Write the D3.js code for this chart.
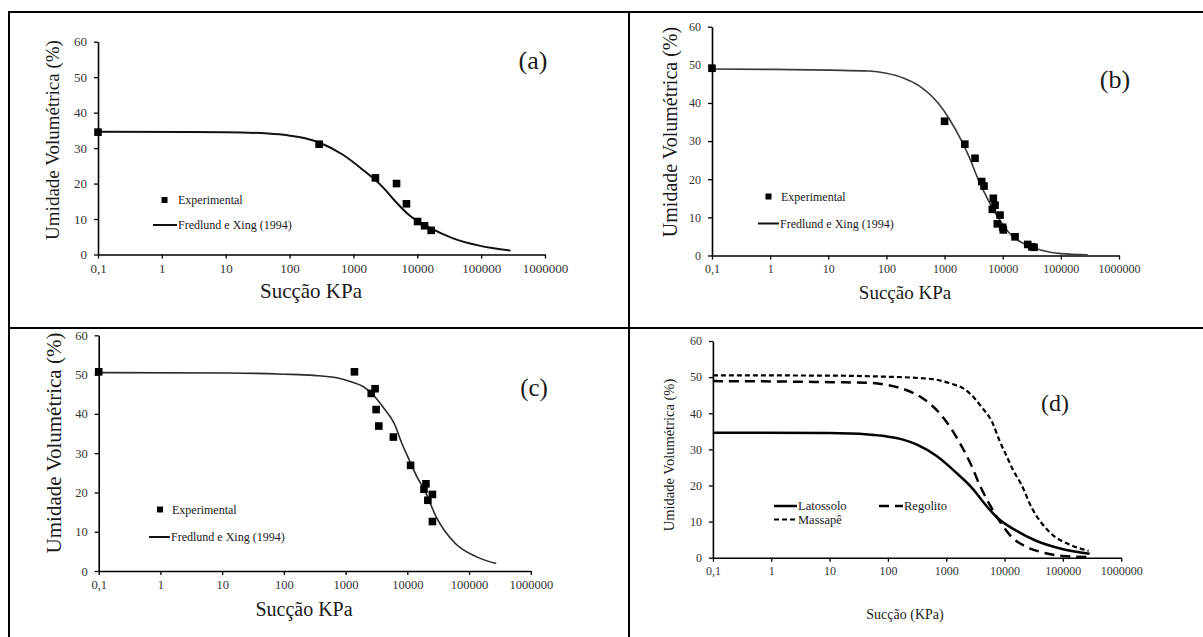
<!DOCTYPE html>
<html>
<head>
<meta charset="utf-8">
<script src="https://cdn.jsdelivr.net/npm/d3@7"></script>
<style>
  body { margin: 0; background: #fff; }
  svg { display: block; }
  svg text { font-family: "Liberation Serif", "LiberationSerif", "Tinos", "DejaVu Serif", serif; fill: #1a1a1a; }
</style>
</head>
<body>
<svg id="chart"></svg>
<script>
// DATA

const sucTicks = [0.1, 1, 10, 100, 1000, 10000, 100000, 1000000];
const umidTicks = [0, 10, 20, 30, 40, 50, 60];

// (a) Latossolo
const expA = [[0.1, 34.5], [290, 31.1], [2210, 21.6], [4730, 20.0], [6770, 14.3],
              [10100, 9.3], [13000, 8.1], [16500, 6.8]];
const fitA = [[0.1, 34.6], [10, 34.5], [46, 34.1], [93, 33.6], [182, 32.7], [316, 31.3],
              [676, 28.2], [1445, 23.7], [2880, 19.0], [4370, 15.3], [7590, 11.0],
              [15100, 7.7], [34700, 4.7], [93300, 2.5], [288000, 1.1]];

// (b) Regolito
const expB = [[0.1, 49.1], [1000, 35.2], [2230, 29.2], [3340, 25.5], [4350, 19.4],
              [4770, 18.2], [6890, 15.0], [7380, 13.2], [6630, 12.1], [8990, 10.6],
              [8070, 8.3], [10000, 7.4], [10240, 6.7], [16300, 4.9], [26900, 2.9],
              [31600, 2.3], [34600, 2.15]];
const fitB = [[0.1, 48.9], [1.1, 48.8], [11, 48.6], [50, 48.4], [100, 47.8], [200, 46.5],
              [365, 44.5], [780, 39.9], [1230, 35.6], [1920, 30.3], [2620, 26.0],
              [3800, 19.9], [5600, 14.6], [8800, 9.4], [13700, 5.5], [21700, 3.3],
              [46500, 1.4], [100000, 0.5], [290000, 0.2]];

// (c) Massapê
const expC = [[0.1, 50.7], [1390, 50.7], [2600, 45.2], [3000, 46.4], [3120, 41.1],
              [3450, 36.9], [5940, 34.1], [11300, 26.9], [18600, 20.8], [20000, 22.2],
              [21500, 18.0], [25500, 19.5], [25500, 12.6]];
const fitC = [[0.1, 50.5], [13, 50.4], [98, 50.1], [302, 49.8], [720, 49.2], [1260, 48.1],
              [1950, 46.9], [3000, 44.3], [4000, 41.8], [6150, 37.5], [8200, 32.4],
              [10800, 28.2], [14400, 23.9], [19100, 20.5], [29300, 13.8], [60000, 7.0],
              [132000, 3.6], [276000, 1.9]];

const legendNames = ['Experimental', 'Fredlund e Xing (1994)'];
const soilNames = ['Latossolo', 'Regolito', 'Massapê'];
const panelTags = ['(a)', '(b)', '(c)', '(d)'];

// LAYOUT

const W = 1203, H = 637;
const FONT = '"Liberation Serif", "LiberationSerif", "Tinos", "DejaVu Serif", serif';
const svg = d3.select('#chart').attr('width', W).attr('height', H);

// outer table frame
const frame = svg.append('g').attr('stroke', '#000').attr('stroke-width', 2);
frame.append('line').attr('x1', 9).attr('x2', W).attr('y1', 12).attr('y2', 12);
frame.append('line').attr('x1', 9).attr('x2', 9).attr('y1', 11).attr('y2', H);
frame.append('line').attr('x1', 629).attr('x2', 629).attr('y1', 11).attr('y2', H);
frame.append('line').attr('x1', 9).attr('x2', W).attr('y1', 328).attr('y2', 328);

const panels = [
  { tag: panelTags[0], xr: [98, 545], yr: [254.5, 41.7], tickFs: 13,
    tagPos: [533, 69], tagFs: 26,
    yLab: [52, 140, 19], xLab: ['Sucção KPa', 311, 298, 21],
    exp: expA, fits: [{ d: fitA, w: 2, c: '#111', dash: null }],
    legend: { sq: [164.5, 200], line: [153, 177, 225], tx: 178, fs: 12 } },
  { tag: panelTags[1], xr: [712, 1119], yr: [255.5, 26.7], tickFs: 12,
    tagPos: [1115, 88], tagFs: 26,
    yLab: [670, 132, 20], xLab: ['Sucção KPa', 905, 299, 19],
    exp: expB, fits: [{ d: fitB, w: 1.6, c: '#3a3a3a', dash: null }],
    legend: { sq: [768.5, 196.5], line: [758, 779, 223.5], tx: 781, fs: 12 } },
  { tag: panelTags[2], xr: [98.7, 530.8], yr: [571, 335.3], tickFs: 12.5,
    tagPos: [534, 396], tagFs: 25,
    yLab: [54, 443, 21], xLab: ['Sucção KPa', 304, 616, 20],
    exp: expC, fits: [{ d: fitC, w: 1.6, c: '#2a2a2a', dash: null }],
    legend: { sq: [160, 509.5], line: [149, 170, 537], tx: 172, fs: 12 } },
  { tag: panelTags[3], xr: [712.9, 1121.2], yr: [557.7, 341], tickFs: 12,
    tagPos: [1055, 411], tagFs: 24,
    yLab: [669, 455, 14.5], xLab: ['Sucção (KPa)', 905, 619, 14],
    exp: null,
    fits: [{ d: fitA, w: 2.5, c: '#000', dash: null, name: soilNames[0], lg: [774, 797, 506] },
           { d: fitB, w: 2.5, c: '#000', dash: '10,6', name: soilNames[1], lg: [879, 903, 506] },
           { d: fitC, w: 2.2, c: '#000', dash: '5,3', name: soilNames[2], lg: [774, 797, 519.5] }],
    legend: null }
];

const fmtSuc = v => v < 1 ? '0,1' : String(Math.round(v));

panels.forEach(function(p) {
  const g = svg.append('g');
  const x = d3.scaleLog().domain([0.1, 1000000]).range(p.xr);
  const y = d3.scaleLinear().domain([0, 60]).range(p.yr);

  // axes
  const xAxis = d3.axisBottom(x).tickValues(sucTicks).tickFormat(fmtSuc)
    .tickSizeInner(4).tickSizeOuter(0).tickPadding(5);
  const yAxis = d3.axisLeft(y).tickValues(umidTicks).tickFormat(d3.format('d'))
    .tickSizeInner(4).tickSizeOuter(0).tickPadding(7);

  const gx = g.append('g').attr('transform', `translate(0,${p.yr[0]})`).call(xAxis);
  const gy = g.append('g').attr('transform', `translate(${p.xr[0]},0)`).call(yAxis);
  [gx, gy].forEach(function(ax) {
    ax.attr('font-family', FONT);
    ax.select('.domain').attr('stroke', '#000').attr('stroke-width', 1.6);
    ax.selectAll('.tick line').attr('stroke', '#000').attr('stroke-width', 1.3);
    ax.selectAll('.tick text')
      .style('font-family', FONT)
      .style('font-size', p.tickFs + 'px')
      .style('fill', '#333');
  });

  // fitted curves
  const line = d3.line().x(d => x(d[0])).y(d => y(d[1])).curve(d3.curveMonotoneX);
  p.fits.forEach(function(f) {
    g.append('path')
      .attr('d', line(f.d))
      .attr('fill', 'none')
      .attr('stroke', f.c)
      .attr('stroke-width', f.w)
      .attr('stroke-dasharray', f.dash);
    if (f.lg) {
      g.append('line')
        .attr('x1', f.lg[0]).attr('x2', f.lg[1]).attr('y1', f.lg[2]).attr('y2', f.lg[2])
        .attr('stroke', '#000').attr('stroke-width', f.w)
        .attr('stroke-dasharray', f.dash);
      g.append('text').attr('x', f.lg[1] + 1).attr('y', f.lg[2]).attr('dy', '0.35em')
        .style('font-family', FONT).style('font-size', '12.5px').text(f.name);
    }
  });

  // experimental points
  if (p.exp) {
    g.selectAll('rect.pt').data(p.exp).enter().append('rect')
      .attr('class', 'pt')
      .attr('x', d => x(d[0]) - 3.8).attr('y', d => y(d[1]) - 3.8)
      .attr('width', 7.6).attr('height', 7.6)
      .attr('fill', '#000');
  }

  // legend
  if (p.legend) {
    const L = p.legend;
    g.append('rect').attr('x', L.sq[0] - 3).attr('y', L.sq[1] - 3)
      .attr('width', 6).attr('height', 6).attr('fill', '#000');
    g.append('text').attr('x', L.tx).attr('y', L.sq[1]).attr('dy', '0.35em')
      .style('font-family', FONT).style('font-size', L.fs + 'px').text(legendNames[0]);
    g.append('line').attr('x1', L.line[0]).attr('x2', L.line[1])
      .attr('y1', L.line[2]).attr('y2', L.line[2])
      .attr('stroke', '#111').attr('stroke-width', 2);
    g.append('text').attr('x', L.line[1] + 1).attr('y', L.line[2]).attr('dy', '0.35em')
      .style('font-family', FONT).style('font-size', L.fs + 'px').text(legendNames[1]);
  }

  // panel tag
  g.append('text').attr('x', p.tagPos[0]).attr('y', p.tagPos[1])
    .attr('text-anchor', 'middle')
    .style('font-family', FONT).style('font-size', p.tagFs + 'px').text(p.tag);

  // axis titles
  g.append('text')
    .attr('transform', `translate(${p.yLab[0]},${p.yLab[1]}) rotate(-90)`)
    .attr('text-anchor', 'middle').attr('dy', '0.35em')
    .style('font-family', FONT).style('font-size', p.yLab[2] + 'px')
    .text('Umidade Volumétrica (%)');
  g.append('text')
    .attr('x', p.xLab[1]).attr('y', p.xLab[2])
    .attr('text-anchor', 'middle')
    .style('font-family', FONT).style('font-size', p.xLab[3] + 'px')
    .text(p.xLab[0]);
});
</script>
</body>
</html>
